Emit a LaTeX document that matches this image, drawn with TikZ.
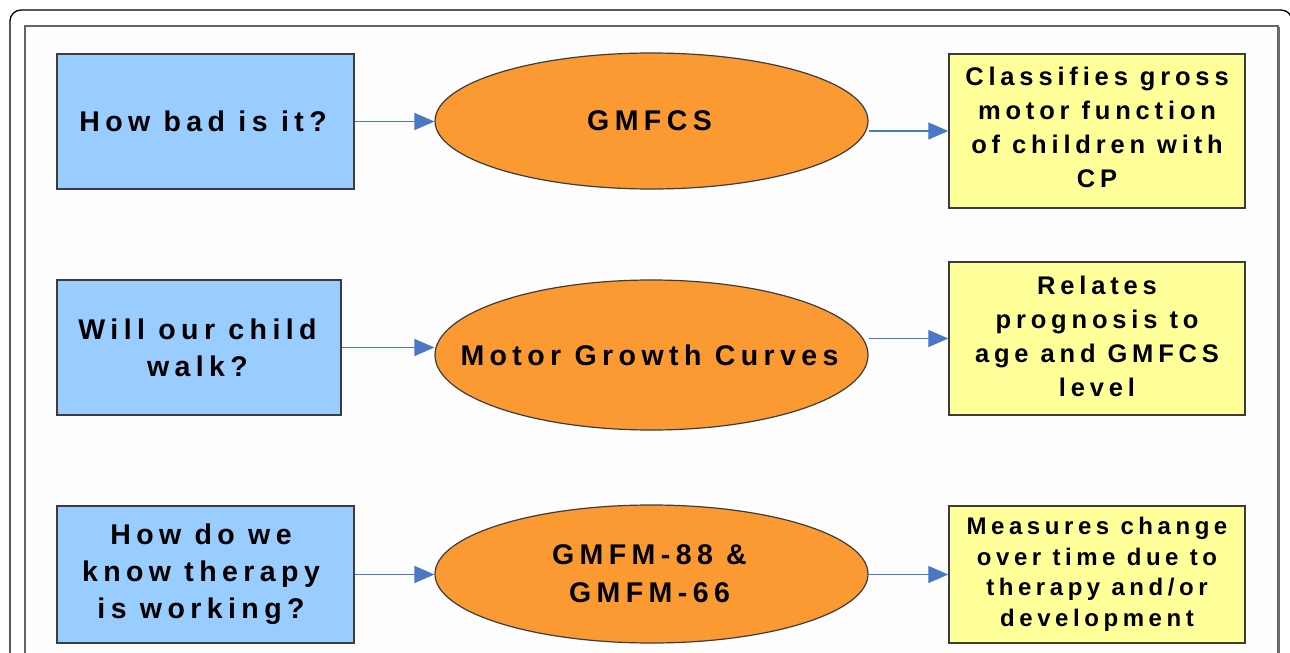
\documentclass[tikz,border=0pt]{standalone}
\usepackage{fontspec}
\usetikzlibrary{shapes.geometric,arrows.meta}
\newfontfamily\labfont{Liberation Sans}[LetterSpace=19]
\definecolor{boxblue}{HTML}{99CCFF}
\definecolor{ellorange}{HTML}{FB9933}
\definecolor{boxyellow}{HTML}{FFFF99}
\definecolor{arrowblue}{HTML}{4A78C4}
\definecolor{edgegray}{HTML}{3C3C3C}
\definecolor{panelbg}{HTML}{FDFDFD}
\tikzset{
  bluebox/.style={draw=edgegray, line width=1.4pt, fill=boxblue, rectangle, inner sep=0pt},
  bluelabel/.style={align=center, inner sep=0pt, xshift=-2.5pt, font=\labfont\bfseries\fontsize{28.5}{37}\selectfont},
  yelbox/.style={draw=edgegray, line width=1.4pt, fill=boxyellow, rectangle, inner sep=0pt,
    minimum width=296pt},
  yellabel/.style={align=center, inner sep=0pt},
  ellnode/.style={draw=edgegray, line width=1.2pt, fill=ellorange, ellipse, inner sep=0pt, minimum width=433pt},
  elllabel/.style={align=center, inner sep=0pt, xshift=-2pt, font=\labfont\bfseries\fontsize{28.5}{38}\selectfont},
  conn/.style={draw=arrowblue, line width=1.3pt, -{Triangle[length=20pt,width=17pt]}}
}
\begin{document}
\begin{tikzpicture}[x=1pt,y=-1pt]
\clip (0,0) rectangle (1290,653);
\fill[white] (0,0) rectangle (1290,653);
% outer frame
\draw[black, line width=1.3pt, rounded corners=11pt] (10,700) -- (10,10) -- (1292,10) -- (1292,700);
% inner panel
\draw[draw=edgegray!80, line width=1.2pt, fill=panelbg] (25,26) rectangle (1278,700);
\draw[draw=gray!85!black, line width=2pt] (1279,27) -- (1279,700);

% row 1
\node[bluebox, minimum width=297pt, minimum height=135pt,
  label={[bluelabel]center:How bad is it?}] (b1) at (205.5,121.5) {};
\node[ellnode, minimum height=136pt, label={[elllabel]center:GMFCS}] (e1) at (651.5,121) {};
\node[yelbox, minimum height=154pt,
  label={[yellabel, yshift=4pt, font=\labfont\bfseries\fontsize{25.5}{34}\selectfont]center:{Classifies gross\\motor function\\of children with\\CP}}] (y1) at (1097,131) {};

% row 2
\node[bluebox, minimum width=284pt, minimum height=135pt,
  label={[bluelabel, xshift=1pt]center:{Will our child\\walk?}}] (b2) at (199,347.5) {};
\node[ellnode, minimum height=150pt, label={[elllabel]center:Motor Growth Curves}] (e2) at (651.5,355) {};
\node[yelbox, minimum height=153pt,
  label={[yellabel, yshift=2pt, font=\labfont\bfseries\fontsize{25.5}{34}\selectfont]center:{Relates\\prognosis to\\age and GMFCS\\level}}] (y2) at (1097,338.5) {};

% row 3
\node[bluebox, minimum width=297pt, minimum height=137pt,
  label={[bluelabel, xshift=-2pt]center:{How do we\\know therapy\\is working?}}] (b3) at (205.5,574.5) {};
\node[ellnode, minimum height=138pt, label={[elllabel]center:{GMFM-88 \&\\GMFM-66}}] (e3) at (651.5,574) {};
\node[yelbox, minimum height=137pt,
  label={[yellabel, font=\labfont\bfseries\fontsize{24}{30.5}\selectfont]center:{Measures change\\over time due to\\therapy and/or\\development}}] (y3) at (1097,574.5) {};

% connectors
\draw[conn] (b1.east) -- (b1.east -| e1.west);
\draw[conn] (b2.east) -- (b2.east -| e2.west);
\draw[conn] (b3.east) -- (b3.east -| e3.west);
\draw[conn] (e1.east |- y1.west) -- (y1.west);
\draw[conn] (e2.east |- y2.west) -- (y2.west);
\draw[conn] (e3.east |- y3.west) -- (y3.west);
\end{tikzpicture}
\end{document}
